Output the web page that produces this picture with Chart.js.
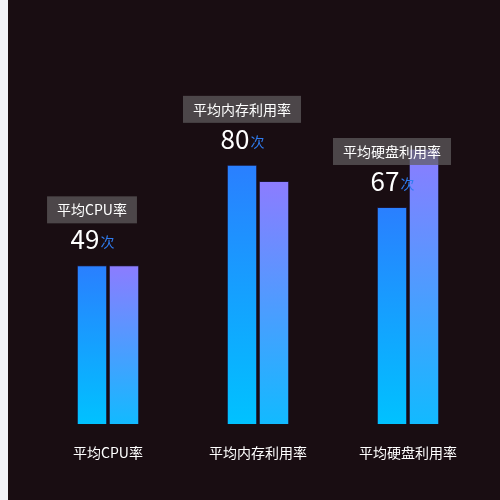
<!DOCTYPE html>
<html>
<head>
<meta charset="utf-8">
<script src="https://cdn.jsdelivr.net/npm/chart.js@4"></script>
<style>
    html, body { margin: 0; padding: 0; background: #f1f2f7; }
    #wrap { position: absolute; left: 8px; top: 0; width: 492px; height: 500px; background: #190d12; }
</style>
</head>
<body>
<div id="wrap"><canvas id="usageChart"></canvas></div>
<script>
// chart data
const categories = ['平均CPU率', '平均内存利用率', '平均硬盘利用率'];
const firstValues = [49, 80, 67];
const secondValues = [49, 75, 85];
const unitText = '次';

const fontFamily = '"Noto Sans CJK SC", "Noto Sans", sans-serif';

// vertical gradient per bar, from its top down to the baseline
function barGradient(top, bottom) {
    return function (context) {
        const chart = context.chart;
        if (!chart.chartArea) return top;
        const yScale = chart.scales.y;
        const y0 = yScale.getPixelForValue(context.raw);
        const y1 = yScale.getPixelForValue(0);
        const g = chart.ctx.createLinearGradient(0, y0, 0, y1);
        g.addColorStop(0, top);
        g.addColorStop(1, bottom);
        return g;
    };
}

// label box + value above the first bar of each group
const topLabels = {
    id: 'topLabels',
    afterDatasetsDraw(chart) {
        const ctx = chart.ctx;
        const meta = chart.getDatasetMeta(0);
        ctx.save();
        meta.data.forEach((bar, i) => {
            const x = bar.x;
            const y = bar.y;

            // box with category name
            ctx.font = '14px ' + fontFamily;
            const textW = ctx.measureText(categories[i]).width;
            const boxW = textW + 20;
            const boxH = 27;
            const boxBottom = y - 42;
            ctx.fillStyle = 'rgba(96, 93, 94, 0.72)';
            ctx.fillRect(x - boxW / 2, boxBottom - boxH, boxW, boxH);
            ctx.fillStyle = '#ffffff';
            ctx.textAlign = 'center';
            ctx.textBaseline = 'middle';
            ctx.fillText(categories[i], x, boxBottom - boxH / 2);

            // value + unit
            const valueText = String(firstValues[i]);
            ctx.font = '26px ' + fontFamily;
            const vW = ctx.measureText(valueText).width;
            ctx.font = '14px ' + fontFamily;
            const uW = ctx.measureText(unitText).width;
            const startX = x - (vW + uW) / 2;
            ctx.textAlign = 'left';
            ctx.textBaseline = 'alphabetic';
            ctx.font = '26px ' + fontFamily;
            ctx.fillStyle = '#ffffff';
            ctx.fillText(valueText, startX, y - 16);
            ctx.font = '14px ' + fontFamily;
            ctx.fillStyle = '#2f7cf0';
            ctx.fillText(unitText, startX + vW + 1, y - 18);
        });
        ctx.restore();
    }
};

const ctx = document.getElementById('usageChart').getContext('2d');
const usageChart = new Chart(ctx, {
    type: 'bar',
    data: {
        labels: categories,
        datasets: [{
            label: '数值一',
            data: firstValues,
            backgroundColor: barGradient('#2a7fff', '#00c2ff'),
            borderColor: 'rgba(30, 30, 80, 0.55)',
            borderWidth: 1,
            barPercentage: 0.95,
            categoryPercentage: 0.4267
        }, {
            label: '数值二',
            data: secondValues,
            backgroundColor: barGradient('#8c7cff', '#12baff'),
            borderColor: 'rgba(30, 30, 80, 0.55)',
            borderWidth: 1,
            barPercentage: 0.95,
            categoryPercentage: 0.4267
        }]
    },
    options: {
        responsive: true,
        maintainAspectRatio: false,
        animation: false,
        layout: {
            padding: { top: 100, left: 25, right: 17, bottom: 19 }
        },
        plugins: {
            legend: { display: false },
            tooltip: { enabled: false }
        },
        scales: {
            y: {
                display: false,
                min: 0,
                max: 100
            },
            x: {
                grid: { display: false, drawTicks: false },
                border: { display: false },
                ticks: {
                    color: '#ffffff',
                    padding: 20,
                    font: { size: 14, family: fontFamily }
                }
            }
        }
    },
    plugins: [topLabels]
});
</script>
</body>
</html>
